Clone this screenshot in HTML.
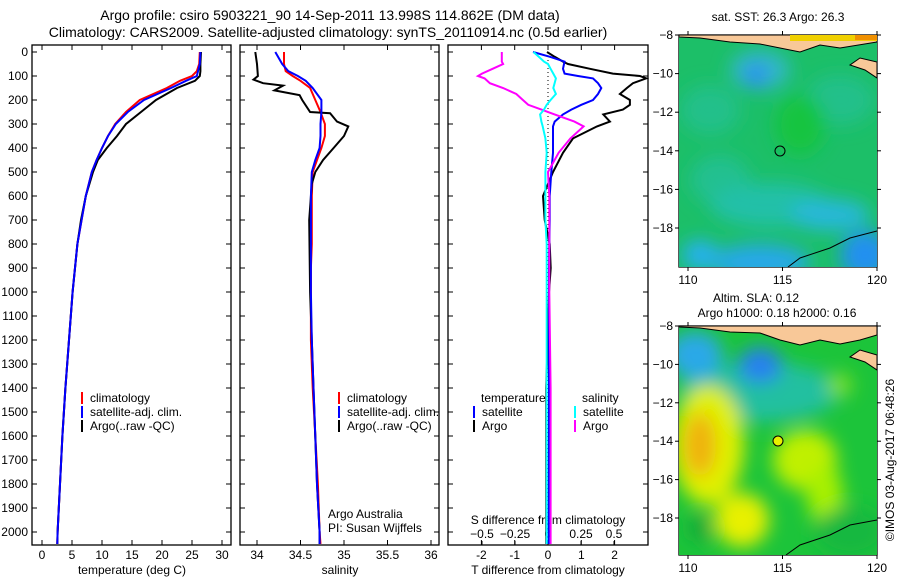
<!DOCTYPE html>
<html><head><meta charset="utf-8"><style>
body{margin:0;background:#fff}
svg{display:block;font-family:"Liberation Sans",sans-serif}
text{font-size:12px;fill:#000}
</style></head><body>
<svg id="c" width="900" height="580" viewBox="0 0 900 580">
<defs>
<filter id="bl" x="-50%" y="-50%" width="200%" height="200%"><feGaussianBlur stdDeviation="9"/></filter>
<clipPath id="m1c"><rect x="679" y="35" width="198" height="232"/></clipPath>
<clipPath id="m2c"><rect x="679" y="326" width="198" height="229"/></clipPath>
</defs>
<text x="330" y="20" text-anchor="middle" style="font-size:14px">Argo profile: csiro 5903221_90 14-Sep-2011 13.998S 114.862E (DM data)</text>
<text x="328" y="37" text-anchor="middle" style="font-size:14px">Climatology: CARS2009. Satellite-adjusted climatology: synTS_20110914.nc (0.5d earlier)</text>
<g id="g"></g>
<g clip-path="url(#m1c)">
<rect x="679" y="35" width="198" height="232" fill="#1cbf68"/>
<g filter="url(#bl)">
<ellipse cx="710" cy="110" rx="30" ry="25" fill="#22c08a"/>
<ellipse cx="760" cy="70" rx="30" ry="20" fill="#30b8c8"/>
<ellipse cx="756" cy="75" rx="12" ry="12" fill="#2a8ef0"/>
<ellipse cx="840" cy="100" rx="35" ry="25" fill="#20c08a"/>
<ellipse cx="800" cy="125" rx="25" ry="30" fill="#16c440"/>
<ellipse cx="720" cy="180" rx="30" ry="25" fill="#20c090"/>
<ellipse cx="770" cy="205" rx="60" ry="22" fill="#24c0a8"/>
<ellipse cx="760" cy="262" rx="50" ry="18" fill="#28a8e8"/>
<ellipse cx="865" cy="255" rx="25" ry="25" fill="#2090f0"/>
<ellipse cx="700" cy="255" rx="18" ry="15" fill="#28b0f0"/>
<ellipse cx="830" cy="215" rx="40" ry="16" fill="#28b8d8"/>
</g>
<path d="M679,35 L877,35 L877,42 L840,48 L820,45 L800,52 L780,48 L760,44 L730,42 L700,38 L679,37Z" fill="#f8c898" stroke="#000" stroke-width="1"/>
<rect x="790" y="35" width="87" height="6" fill="#f0d000"/>
<rect x="855" y="35" width="22" height="5" fill="#f09000"/>
<path d="M877,62 L860,58 L850,65 L865,70 L877,78Z" fill="#f8c898" stroke="#000"/>
<path d="M788,267 L800,258 L830,248 L850,238 L877,231" fill="none" stroke="#000"/>
<circle cx="780" cy="151" r="5" fill="none" stroke="#000"/>
</g>
<g clip-path="url(#m2c)">
<rect x="679" y="326" width="198" height="229" fill="#1cc43a"/>
<g filter="url(#bl)">
<ellipse cx="760" cy="392" rx="80" ry="30" fill="#20c0a0"/>
<ellipse cx="695" cy="355" rx="28" ry="24" fill="#2aa8e8"/>
<ellipse cx="760" cy="365" rx="22" ry="18" fill="#2880f0"/>
<ellipse cx="708" cy="445" rx="36" ry="60" fill="#e0f000"/>
<ellipse cx="700" cy="445" rx="16" ry="32" fill="#f0b010"/>
<ellipse cx="805" cy="460" rx="32" ry="30" fill="#c0f000"/>
<ellipse cx="825" cy="495" rx="18" ry="30" fill="#a8f000"/>
<ellipse cx="742" cy="520" rx="27" ry="27" fill="#e8f000"/>
<ellipse cx="700" cy="528" rx="12" ry="14" fill="#18a838"/>
<ellipse cx="850" cy="532" rx="35" ry="25" fill="#18b840"/>
<ellipse cx="840" cy="385" rx="12" ry="12" fill="#80e020"/>
</g>
<path d="M679,326 L877,326 L877,335 L860,340 L840,344 L820,340 L800,345 L780,340 L760,333 L730,332 L700,328 L679,327Z" fill="#f8c898" stroke="#000" stroke-width="1"/>
<path d="M877,355 L860,350 L850,357 L865,362 L877,370Z" fill="#f8c898" stroke="#000"/>
<path d="M786,555 L800,545 L830,535 L850,525 L877,520" fill="none" stroke="#000"/>
<circle cx="778" cy="441" r="5" fill="#e8f000" stroke="#000"/>
</g>
<text x="778" y="21" text-anchor="middle">sat. SST: 26.3 Argo: 26.3</text>
<text x="756" y="302" text-anchor="middle">Altim. SLA: 0.12</text>
<text x="777" y="317" text-anchor="middle">Argo h1000: 0.18 h2000: 0.16</text>
<text x="0" y="0" transform="translate(894,460) rotate(-90)" text-anchor="middle">©IMOS 03-Aug-2017 06:48:26</text>
</svg>
<script>
const depths=[0,50,80,100,120,150,200,250,300,350,400,450,500,600,700,800,900,1000,1200,1400,1600,1800,2000,2050];
const tempClim=[26.3,26.2,25.8,25,23,20.8,16.3,14,12.2,11,10,9.1,8.3,7.3,6.6,5.9,5.5,5.1,4.5,3.9,3.4,3.0,2.6,2.55];
const tempSat=[26.4,26.3,26,25.8,24,21.5,17,14.3,12.3,11,10,9.1,8.3,7.3,6.6,5.9,5.5,5.1,4.5,3.9,3.4,3.0,2.6,2.55];
const tempArgo=[26.5,26.4,26.4,26.3,25.5,22.5,19,16.5,14,12.5,10.8,9.3,8.5,7.3,6.5,5.9,5.5,5.1,4.5,3.9,3.4,3.0,2.6,2.55];
const salClim=[34.31,34.31,34.33,34.41,34.5,34.61,34.67,34.73,34.78,34.78,34.74,34.69,34.64,34.63,34.63,34.63,34.62,34.62,34.62,34.64,34.67,34.7,34.72,34.73];
const salSat=[34.21,34.29,34.36,34.47,34.56,34.64,34.74,34.74,34.73,34.73,34.72,34.67,34.63,34.62,34.62,34.62,34.62,34.62,34.63,34.65,34.67,34.69,34.72,34.72];
const argoSalDepths=[0,50,100,115,130,140,160,180,200,250,255,290,310,350,400,450,500,550,700,1000,1400,1800,2000,2050];
const salArgo=[33.98,34.0,34.01,33.96,34.07,34.3,34.2,34.49,34.52,34.61,34.84,34.92,35.05,35.0,34.88,34.76,34.67,34.63,34.6,34.61,34.65,34.69,34.72,34.72];
const diffDepths=[0,20,40,50,70,90,100,110,130,150,175,200,220,240,260,290,310,360,420,500,600,700,800,900,1000,1400,2000,2050];
const tDiffArgo=[-0.03,0.2,0.45,0.6,1.26,1.95,2.76,2.95,2.55,2.37,2.16,2.46,2.46,2.25,1.66,1.86,1.47,0.75,0.45,0.15,-0.15,-0.1,0.05,0.08,0.03,-0.05,-0.05,-0.05];
const tDiffSat=[-0.45,0.06,0.5,0.48,0.45,0.5,0.9,1.35,1.5,1.6,1.5,1.35,1.0,0.7,0.45,0.2,0.15,0.15,0.15,0.1,0.05,0.05,0.04,0.03,0.03,0.03,0.02,0.02];
const sDiffArgo=[-0.35,-0.35,-0.35,-0.34,-0.42,-0.5,-0.53,-0.48,-0.44,-0.34,-0.24,-0.19,-0.15,-0.05,0.05,0.2,0.27,0.17,0.08,0,0.01,0.01,0.01,0.01,0.01,0.02,0.02,0.02];
const sDiffSat=[-0.11,-0.07,-0.03,0,0.02,0.04,0.05,0.06,0.05,0.04,0.06,0.02,-0.01,-0.03,-0.06,-0.05,-0.04,-0.02,-0.01,-0.02,-0.02,-0.02,-0.01,-0.01,-0.01,-0.01,-0.01,-0.01];
const depthTicks=[0,100,200,300,400,500,600,700,800,900,1000,1100,1200,1300,1400,1500,1600,1700,1800,1900,2000];
const tempTicks=[0,5,10,15,20,25,30];
const salTicks=[34,34.5,35,35.5,36];
const tdTicks=[-2,-1,0,1,2];
const sdTicks=[-0.5,-0.25,0,0.25,0.5];
const lonTicks=[110,115,120];
const latTicks=[-8,-10,-12,-14,-16,-18];

const NS='http://www.w3.org/2000/svg';
const g=document.getElementById('g');
function el(t,a,p){const e=document.createElementNS(NS,t);for(const k in a)e.setAttribute(k,a[k]);(p||g).appendChild(e);return e;}
function txt(x,y,s,anchor,p){const e=el('text',{x:x,y:y,'text-anchor':anchor||'middle'},p);e.textContent=s;return e;}
const yD=d=>52+d*0.24;
const xT=v=>42+v*6;
const xS=v=>257+(v-34)*87;
const xTD=v=>548+v*33.3;
const xSD=v=>548+v*132;
const TOP=45,BOT=545;
const panels=[[32,231],[240,439],[448,648]];
panels.forEach((p,i)=>{
 const r=el('rect',{x:p[0],y:TOP,width:p[1]-p[0],height:BOT-TOP,fill:'none',stroke:'#000','stroke-width':1.3});
 
 
 depthTicks.forEach(d=>{const y=yD(d);el('line',{x1:p[0],x2:p[0]+5,y1:y,y2:y,stroke:'#000'});el('line',{x1:p[1],x2:p[1]-5,y1:y,y2:y,stroke:'#000'});});
});
depthTicks.forEach(d=>{const t=txt(28,yD(d)+4,String(d),'end');});
function xticks(ticks,f,y){ticks.forEach(v=>{const x=f(v);el('line',{x1:x,x2:x,y1:BOT,y2:BOT-5,stroke:'#000'});el('line',{x1:x,x2:x,y1:TOP,y2:TOP+5,stroke:'#000'});const t=txt(x,y,String(v));});}
xticks(tempTicks,xT,559);
xticks(salTicks,xS,559);
xticks(tdTicks,xTD,559);
sdTicks.forEach(v=>{const x=xSD(v);el('line',{x1:x,x2:x,y1:BOT,y2:BOT-4,stroke:'#000'});const t=txt(x,538,String(v).replace('-','\u2212'));});
[['temperature (deg C)',132],['salinity',340],['T difference from climatology',548]].forEach(a=>{const t=txt(a[1],574,a[0]);});
const sd=txt(548,524,'S difference from climatology');


el('line',{x1:548,x2:548,y1:52,y2:545,stroke:'#000','stroke-dasharray':'1,3'});
function line(xs,ds,f,col,name){const pts=xs.map((v,i)=>f(v).toFixed(1)+','+yD(ds[i]).toFixed(1)).join(' ');const e=el('polyline',{points:pts,fill:'none',stroke:col,'stroke-width':2});}
line(tempClim,depths,xT,'#f00','temp-climatology-line');
line(tempArgo,depths,xT,'#000','temp-argo-line');
line(tempSat,depths,xT,'#00f','temp-satellite-line');
line(salClim,depths,xS,'#f00','sal-climatology-line');
line(salArgo,argoSalDepths,xS,'#000','sal-argo-line');
line(salSat,depths,xS,'#00f','sal-satellite-line');
line(tDiffArgo,diffDepths,xTD,'#000','tdiff-argo-line');
line(tDiffSat,diffDepths,xTD,'#00f','tdiff-satellite-line');
line(sDiffArgo,diffDepths,xSD,'#f0f','sdiff-argo-line');
line(sDiffSat,diffDepths,xSD,'#0ff','sdiff-satellite-line');
function leg(x,y,col,s){el('rect',{x:x,y:y-10,width:2,height:12,fill:col});const t=txt(x+9,y,s,'start');}
[[81],[338]].forEach(a=>{leg(a[0],402,'#f00','climatology');leg(a[0],416,'#00f','satellite-adj. clim.');leg(a[0],430,'#000','Argo(..raw -QC)');});
txt(481,402,'temperature','start');
leg(473,416,'#00f','satellite');leg(473,430,'#000','Argo');
txt(582,402,'salinity','start');
leg(574,416,'#0ff','satellite');leg(574,430,'#f0f','Argo');
txt(328,518,'Argo Australia','start');
txt(328,532,'PI: Susan Wijffels','start');
function mapAxes(x0,y0,h,latPx){
 el('rect',{x:x0,y:y0,width:198,height:h,fill:'none',stroke:'#000','stroke-width':1.3});
 lonTicks.forEach(v=>{const x=688+(v-110)*18.9;el('line',{x1:x,x2:x,y1:y0+h,y2:y0+h+4,stroke:'#000'});el('line',{x1:x,x2:x,y1:y0,y2:y0-4,stroke:'#000'});txt(x,y0+h+17,String(v));});
 latTicks.forEach(v=>{const y=y0+(-8-v)*latPx;el('line',{x1:x0,x2:x0-4,y1:y,y2:y,stroke:'#000'});el('line',{x1:x0+198,x2:x0+202,y1:y,y2:y,stroke:'#000'});txt(x0-6,y+4,String(v).replace('-','\u2212'),'end');});
}
mapAxes(679,35,232,19.3);
mapAxes(679,326,229,19.2);
</script>
</body></html>
